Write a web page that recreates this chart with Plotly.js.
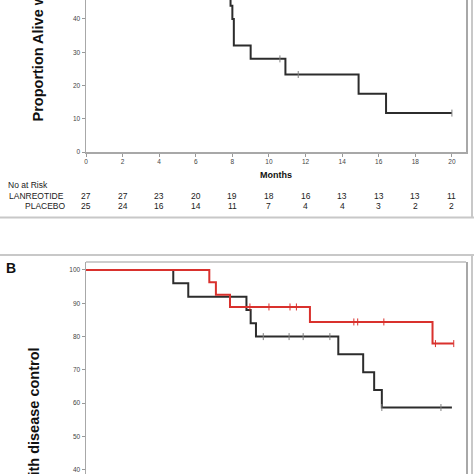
<!DOCTYPE html>
<html>
<head>
<meta charset="utf-8">
<script src="https://cdn.plot.ly/plotly-3.0.1.min.js"></script>
<style>html,body{margin:0;padding:0;background:#fff;}#chart{width:474px;height:474px;}</style>
</head>
<body>
<div id="chart"></div>
<script>
// ---- Data ----
// Panel A (visible part of the Kaplan-Meier curve)
const aTime = [7.9, 7.9, 8.0, 8.08, 9.0, 10.9, 14.9, 16.4, 20];
const aSurv = [48, 44, 40, 32, 28, 23.3, 17.5, 11.7, 11.7];
const aCensTime = [10.6, 11.6, 20];
const aCensSurv = [28, 23.3, 11.7];

// Number at risk table
const riskMonths = [0, 2, 4, 6, 8, 10, 12, 14, 16, 18, 20];
const lanreotideRisk = [27, 27, 23, 20, 19, 18, 16, 13, 13, 13, 11];
const placeboRisk = [25, 24, 16, 14, 11, 7, 4, 4, 3, 2, 2];
const riskLabels = ["No at Risk", "LANREOTIDE", "PLACEBO"];

// Panel B - black curve
const bBlackTime = [0, 4.77, 5.59, 8.77, 9.0, 9.29, 13.79, 15.15, 15.75, 16.17, 20];
const bBlackSurv = [100, 96, 92, 88, 84, 80, 74.7, 69.3, 64, 58.7, 58.7];
const bBlackCensTime = [9.69, 11.1, 11.87, 13.33, 16.17, 19.4];
const bBlackCensSurv = [80, 80, 80, 80, 58.7, 58.7];

// Panel B - red curve
const bRedTime = [0, 6.74, 7.1, 7.87, 12.24, 18.94, 20.1];
const bRedSurv = [100, 96.3, 92.6, 88.9, 84.4, 77.9, 77.9];
const bRedCensTime = [8.96, 10.0, 11.15, 11.5, 14.64, 14.85, 16.28, 19.1, 20.1];
const bRedCensSurv = [88.9, 88.9, 88.9, 88.9, 84.4, 84.4, 84.4, 77.9, 77.9];

const titleA = "Proportion Alive without Progression";
const titleB = "Proportion with disease control";
const xTitle = "Months";
const panelLabel = "B";

// ---- Layout helpers ----
const W = 474, H = 474;
const px = p => p / W;
const py = p => 1 - p / H;
const FONT = "Liberation Sans, Arial, sans-serif";
const BLACK = "#2c2c2c", RED = "#d9312d", CENS = "#808080";

const cens = c => ({symbol: "line-ns-open", size: 5, color: c, line: {width: 1, color: c}});

const traces = [
  {x: aTime, y: aSurv, xaxis: "x", yaxis: "y", mode: "lines",
   line: {shape: "hv", color: BLACK, width: 2}},
  {x: aCensTime, y: aCensSurv, xaxis: "x", yaxis: "y", mode: "markers", marker: cens(CENS)},
  {x: bBlackTime, y: bBlackSurv, xaxis: "x2", yaxis: "y2", mode: "lines",
   line: {shape: "hv", color: BLACK, width: 2}},
  {x: bBlackCensTime, y: bBlackCensSurv, xaxis: "x2", yaxis: "y2", mode: "markers", marker: cens(CENS)},
  {x: bRedTime, y: bRedSurv, xaxis: "x2", yaxis: "y2", mode: "lines",
   line: {shape: "hv", color: RED, width: 2}},
  {x: bRedCensTime, y: bRedCensSurv, xaxis: "x2", yaxis: "y2", mode: "markers", marker: cens(RED)}
];

const tickFont = {family: FONT, size: 6.5, color: "#444"};
const axisBase = {showgrid: false, zeroline: false, showline: true, linecolor: "#a8a8a8",
  linewidth: 1.5, ticks: "outside", ticklen: 3, tickcolor: "#999", tickfont: tickFont};

const tFont = {family: FONT, size: 8.5, color: "#222"};
const annotations = [];
// table labels
annotations.push({text: riskLabels[0], xref: "paper", yref: "paper", x: px(7), y: py(185.5),
  xanchor: "left", yanchor: "middle", showarrow: false, font: tFont, borderpad: 0});
annotations.push({text: riskLabels[1], xref: "paper", yref: "paper", x: px(8), y: py(196),
  xanchor: "left", yanchor: "middle", showarrow: false, font: tFont, borderpad: 0});
annotations.push({text: riskLabels[2], xref: "paper", yref: "paper", x: px(67), y: py(206.5),
  xanchor: "right", yanchor: "middle", showarrow: false, font: tFont, borderpad: 0});
riskMonths.forEach((m, i) => {
  annotations.push({text: String(lanreotideRisk[i]), xref: "x", yref: "paper", x: m, y: py(196),
    xanchor: "center", yanchor: "middle", showarrow: false, font: tFont, borderpad: 0});
  annotations.push({text: String(placeboRisk[i]), xref: "x", yref: "paper", x: m, y: py(206.5),
    xanchor: "center", yanchor: "middle", showarrow: false, font: tFont, borderpad: 0});
});
// axis titles
annotations.push({text: "<b>" + titleA + "</b>", xref: "paper", yref: "paper", x: px(38), y: py(123.5),
  xanchor: "center", yanchor: "bottom", textangle: -90, showarrow: false,
  font: {family: FONT, size: 14.5, color: "#111"}});
annotations.push({text: "<b>" + titleB + "</b>", xref: "paper", yref: "paper", x: px(34), y: py(345),
  xanchor: "center", yanchor: "top", textangle: -90, showarrow: false,
  font: {family: FONT, size: 14.5, color: "#111"}});
annotations.push({text: "<b>" + xTitle + "</b>", xref: "paper", yref: "paper", x: px(276), y: py(175),
  xanchor: "center", yanchor: "middle", showarrow: false, font: {family: FONT, size: 9, color: "#111"}});
annotations.push({text: "<b>" + panelLabel + "</b>", xref: "paper", yref: "paper", x: px(10.5), y: py(267.5),
  xanchor: "center", yanchor: "middle", showarrow: false, font: {family: FONT, size: 14, color: "#111"}});

const border = {color: "#c8c8c8", width: 2};
const shapes = [
  {type: "line", xref: "paper", yref: "paper", x0: 0, x1: 1, y0: py(217.5), y1: py(217.5), line: border},
  {type: "line", xref: "paper", yref: "paper", x0: px(472), x1: px(472), y0: 1, y1: py(217.5), line: border},
  {type: "line", xref: "paper", yref: "paper", x0: 0, x1: 1, y0: py(255), y1: py(255), line: border},
  {type: "line", xref: "paper", yref: "paper", x0: px(472), x1: px(472), y0: py(255), y1: 0, line: border},
  {type: "line", xref: "x2 domain", yref: "y2 domain", x0: 0, x1: 1, y0: 1, y1: 1,
   line: {color: "#bdbdbd", width: 1.5}}
];

const layout = {
  width: W, height: H,
  margin: {l: 0, r: 0, t: 0, b: 0},
  paper_bgcolor: "#fff", plot_bgcolor: "#fff",
  showlegend: false,
  font: {family: FONT},
  xaxis: Object.assign({}, axisBase, {domain: [px(86), px(466)], range: [0, 20.77],
    tick0: 0, dtick: 2, anchor: "y", mirror: false}),
  yaxis: Object.assign({}, axisBase, {domain: [py(152), 1], range: [0, 45.7],
    tick0: 0, dtick: 10, anchor: "x", mirror: true}),
  xaxis2: {domain: [px(86), px(466)], range: [0, 20.77], anchor: "y2", visible: false},
  yaxis2: Object.assign({}, axisBase, {domain: [0, py(262)], range: [38.74, 102.4],
    tick0: 0, dtick: 10, anchor: "x2", mirror: true}),
  annotations: annotations,
  shapes: shapes
};

Plotly.newPlot("chart", traces, layout, {staticPlot: true, displayModeBar: false});
</script>
</body>
</html>
